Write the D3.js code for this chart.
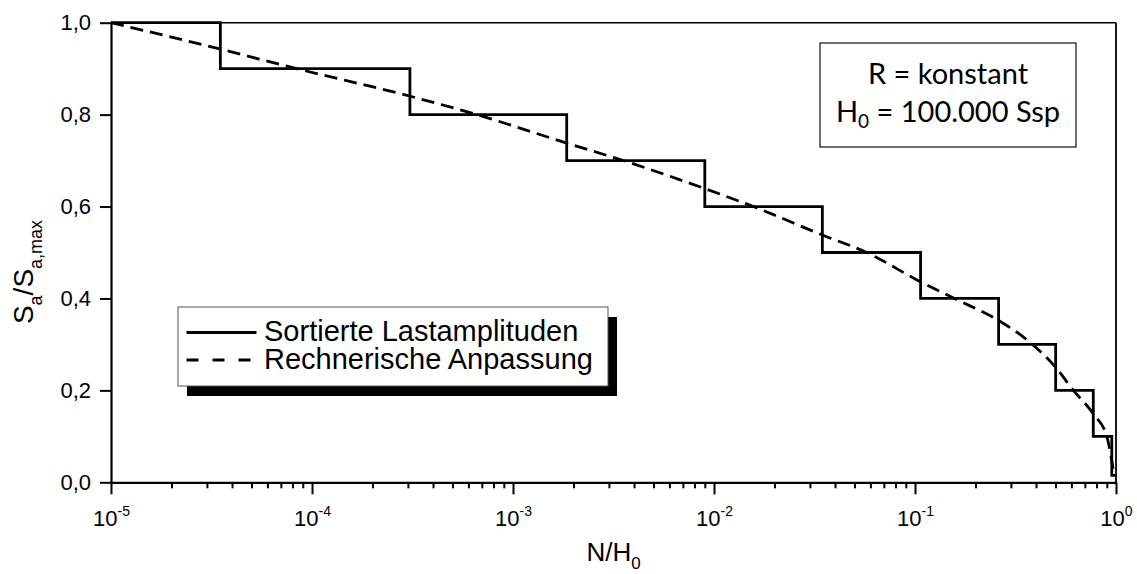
<!DOCTYPE html>
<html>
<head>
<meta charset="utf-8">
<script src="https://cdn.jsdelivr.net/npm/d3@7"></script>
<style>
body { margin: 0; background: #fff; }
text { font-family: "Liberation Sans", Arial, sans-serif; fill: #000; }
</style>
</head>
<body>
<svg id="chart" width="1137" height="574"></svg>
<script>
// sorted load amplitudes: edges on N/H0 and the level of each step
const stepEdges = [1e-5, 3.5e-5, 3.07e-4, 1.85e-3, 9.0e-3, 0.0346, 0.1066, 0.2606, 0.501, 0.771, 0.953, 1.0];
const stepLevels = [1.0, 0.9, 0.8, 0.7, 0.6, 0.5, 0.4, 0.3, 0.2, 0.1, 0.015];

// fitted curve
const fitN = [1e-5, 3.47e-5, 8.4e-5, 3.08e-4, 6.6e-4, 1.85e-3, 3.54e-3, 9.0e-3, 0.0157, 0.0346,
              0.0575, 0.1067, 0.166, 0.261, 0.36, 0.501, 0.614, 0.771, 0.90, 0.975];
const fitS = [1.0, 0.943, 0.9, 0.84, 0.8, 0.738, 0.7, 0.639, 0.6, 0.538,
              0.5, 0.436, 0.395, 0.352, 0.31, 0.25, 0.2, 0.149, 0.1, 0.02];

const yTicks = [0, 0.2, 0.4, 0.6, 0.8, 1.0];
const xDecades = [1e-5, 1e-4, 1e-3, 1e-2, 1e-1, 1];
const legendLabels = ["Sortierte Lastamplituden", "Rechnerische Anpassung"];

const margin = {top: 22.7, left: 111, right: 21, bottom: 91.7};
const width = 1137 - margin.left - margin.right,
      height = 574 - margin.top - margin.bottom;

const svg = d3.select("#chart")
  .append("g")
  .attr("transform", "translate(" + margin.left + "," + margin.top + ")");

const x = d3.scaleLog().domain([1e-5, 1]).range([0, width]);
const y = d3.scaleLinear().domain([0, 1]).range([height, 0]);

// frame top / right
svg.append("line").attr("x1", 0).attr("x2", width).attr("y1", 0).attr("y2", 0)
  .attr("stroke", "#000").attr("stroke-width", 1.6);
svg.append("line").attr("x1", width).attr("x2", width).attr("y1", 0).attr("y2", height)
  .attr("stroke", "#000").attr("stroke-width", 1.8);

// minor ticks of the log axis
const minor = [];
xDecades.slice(0, -1).forEach(d => { for (let k = 2; k < 10; k++) minor.push(d * k); });

svg.append("g")
  .attr("transform", "translate(0," + height + ")")
  .call(d3.axisBottom(x).tickValues(minor).tickSize(6).tickSizeOuter(0).tickFormat(""))
  .call(g => g.select(".domain").remove())
  .call(g => g.selectAll("line").attr("stroke-width", 2));

const xAxis = svg.append("g")
  .attr("transform", "translate(0," + height + ")")
  .call(d3.axisBottom(x).tickValues(xDecades).tickSize(12).tickSizeOuter(0).tickFormat(""));
xAxis.select(".domain").attr("stroke-width", 2.2);
xAxis.selectAll("line").attr("stroke-width", 2);
xAxis.selectAll(".tick").append("text")
  .attr("y", 44)
  .attr("text-anchor", "middle")
  .style("font-size", "22px")
  .each(function(d) {
    const t = d3.select(this);
    t.append("tspan").text("10");
    t.append("tspan").attr("dy", -10).style("font-size", "14px").text(Math.round(Math.log10(d)));
  });

const yAxis = svg.append("g")
  .call(d3.axisLeft(y).tickValues(yTicks).tickSize(11).tickPadding(9).tickSizeOuter(0)
    .tickFormat(d => d3.format(".1f")(d).replace(".", ",")));
yAxis.select(".domain").attr("stroke-width", 2.2);
yAxis.selectAll("line").attr("stroke-width", 2);
yAxis.selectAll("text").style("font-size", "22px").attr("fill", "#000");

// axis titles
const xt = svg.append("text")
  .attr("x", width / 2).attr("y", 538)
  .attr("text-anchor", "middle")
  .style("font-size", "26px");
xt.append("tspan").text("N/H");
xt.append("tspan").attr("dy", 8).style("font-size", "17px").text("0");

const yt = svg.append("text")
  .attr("transform", "translate(" + (33 - margin.left) + "," + (272 - margin.top) + ") rotate(-90)")
  .attr("text-anchor", "middle")
  .style("font-size", "28px");
yt.append("tspan").text("S");
yt.append("tspan").attr("dy", 9).style("font-size", "18px").text("a");
yt.append("tspan").attr("dy", -9).text("/S");
yt.append("tspan").attr("dy", 9).style("font-size", "18px").text("a,max");

// step curve
const stepPts = [];
stepLevels.forEach((s, i) => {
  stepPts.push([stepEdges[i], s]);
  stepPts.push([stepEdges[i + 1], s]);
});
const line = d3.line().x(d => x(d[0])).y(d => y(d[1]));
svg.append("path")
  .datum(stepPts)
  .attr("d", line)
  .attr("fill", "none")
  .attr("stroke", "#000")
  .attr("stroke-width", 2.8);

// fitted curve
const fitPts = fitN.map((n, i) => [n, fitS[i]]);
svg.append("path")
  .datum(fitPts)
  .attr("d", d3.line().x(d => x(d[0])).y(d => y(d[1])).curve(d3.curveMonotoneX))
  .attr("fill", "none")
  .attr("stroke", "#000")
  .attr("stroke-width", 2.8)
  .attr("stroke-dasharray", "13,7");

// legend with shadow
const lg = svg.append("g").attr("transform", "translate(" + (178 - margin.left) + "," + (307 - margin.top) + ")");
lg.append("rect").attr("x", 9).attr("y", 10).attr("width", 430).attr("height", 79).attr("fill", "#000");
lg.append("rect").attr("width", 430).attr("height", 79)
  .attr("fill", "#fff").attr("stroke", "#555").attr("stroke-width", 1);
legendLabels.forEach((lab, i) => {
  const yy = 25.5 + i * 27.5;
  lg.append("line").attr("x1", 8.5).attr("x2", 78.5).attr("y1", yy).attr("y2", yy)
    .attr("stroke", "#000").attr("stroke-width", 2.8)
    .attr("stroke-dasharray", i === 0 ? null : "12,14");
  lg.append("text").attr("x", 86).attr("y", yy + 8.5)
    .style("font-size", "29px").text(lab);
});

// annotation box
const ab = svg.append("g").attr("transform", "translate(" + (820 - margin.left) + "," + (43 - margin.top) + ")");
ab.append("rect").attr("width", 256).attr("height", 104)
  .attr("fill", "#fff").attr("stroke", "#222").attr("stroke-width", 1.3);
ab.append("text").attr("x", 128).attr("y", 41).attr("text-anchor", "middle")
  .style("font-family", "Lato, sans-serif").style("font-size", "29px").text("R = konstant");
const h0 = ab.append("text").attr("x", 128).attr("y", 79).attr("text-anchor", "middle")
  .style("font-family", "Lato, sans-serif").style("font-size", "29px");
h0.append("tspan").text("H");
h0.append("tspan").attr("dy", 6).style("font-size", "19px").text("0");
h0.append("tspan").attr("dy", -6).text(" = 100.000 Ssp");
</script>
</body>
</html>
